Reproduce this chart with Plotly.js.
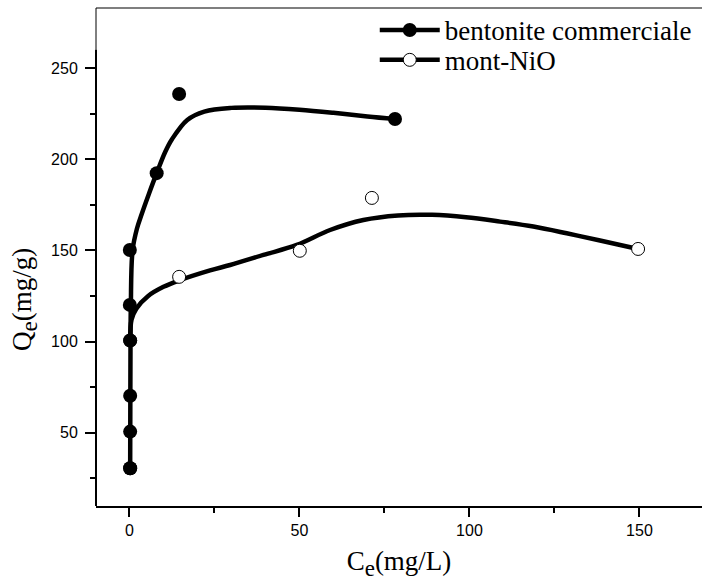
<!DOCTYPE html>
<html>
<head>
<meta charset="utf-8">
<script src="https://cdn.plot.ly/plotly-3.0.1.min.js"></script>
<style>html,body{margin:0;padding:0;background:#fff;}#chart{width:702px;height:583px;}</style>
</head>
<body>
<div id="chart"></div>
<script>
// measured data points
const bentX = [0.2, 0.2, 0.2, 0.2, 0.1, 0.1, 8.0, 14.6, 78.1];
const bentY = [30.5, 50.6, 70.3, 100.6, 120.1, 150.2, 192.4, 235.8, 222.1];
const nioX = [14.6, 50.1, 71.3, 149.6];
const nioY = [135.5, 149.8, 178.8, 150.8];
// fitted curves
const bentFitX = [0.2, 0.25, 0.3, 0.4, 0.9, 2.2, 3.6, 5.7, 8.0, 10.5, 12.5, 17, 22, 30, 40, 50, 60, 70, 78.1];
const bentFitY = [30.5, 70, 100, 120, 150, 162, 170, 181, 192.4, 204, 211, 221.6, 226.2, 228.2, 228.3, 227.2, 225.5, 223.5, 222.1];
const nioFitX = [0.2, 0.6, 2, 5.5, 10, 14.6, 23.7, 29.6, 39.4, 49.2, 59, 68.8, 79, 89, 99, 109, 118.8, 128.6, 138.4, 149.6];
const nioFitY = [100.6, 112, 118, 125, 130, 133.5, 139, 142, 147.5, 153, 161.2, 166.7, 169.2, 169.5, 168.2, 165.8, 163.1, 159.4, 155.4, 150.8];
const names = ['bentonite commerciale', 'mont-NiO'];
const xTicks = [0, 50, 100, 150];
const yTicks = [50, 100, 150, 200, 250];

function firstOnly(n, c) { return Array.from({length: n}, (_, i) => i === 0 ? c : 'rgba(0,0,0,0)'); }

const traces = [
  {x: nioFitX, y: nioFitY, name: names[1], mode: 'lines+markers', type: 'scatter', legend: 'legend2',
   line: {color: '#000', width: 4.5, shape: 'spline', smoothing: 1},
   marker: {size: 13, symbol: 'circle', color: firstOnly(nioFitX.length, '#fff'),
            line: {color: firstOnly(nioFitX.length, '#000'), width: 1}}},
  {x: bentFitX, y: bentFitY, name: names[0], mode: 'lines+markers', type: 'scatter', legend: 'legend',
   line: {color: '#000', width: 4.5, shape: 'spline', smoothing: 1},
   marker: {size: 14, symbol: 'circle', color: firstOnly(bentFitX.length, '#000'),
            line: {color: firstOnly(bentFitX.length, '#000'), width: 0}}},
  {x: nioX, y: nioY, mode: 'markers', type: 'scatter', showlegend: false,
   marker: {size: 13, color: '#fff', line: {color: '#000', width: 1}}},
  {x: bentX, y: bentY, mode: 'markers', type: 'scatter', showlegend: false,
   marker: {size: 14, color: '#000', line: {width: 0}}}
];

const tickFont = {family: 'Liberation Sans, Arial, sans-serif', size: 16, color: '#000'};
const serif = 'Liberation Serif, Times New Roman, serif';
const legFont = {family: serif, size: 27, color: '#000'};
const sub = s => '<sub><span style="font-size:23px">' + s + '</span></sub>';

const layout = {
  width: 702, height: 583,
  margin: {l: 96, r: 0, t: 8, b: 77},
  paper_bgcolor: '#fff', plot_bgcolor: '#fff',
  showlegend: true,
  legend: {x: 0.46, y: 0.955, xanchor: 'left', yanchor: 'middle', bgcolor: 'rgba(0,0,0,0)',
           font: legFont, itemwidth: 60},
  legend2: {x: 0.46, y: 0.895, xanchor: 'left', yanchor: 'middle', bgcolor: 'rgba(0,0,0,0)',
           font: legFont, itemwidth: 60},
  xaxis: {range: [-9.85, 168.4], tickvals: xTicks, ticktext: xTicks.map(String),
          ticks: 'outside', ticklen: 9, tickwidth: 2, tickcolor: '#000',
          showline: true, linewidth: 2, linecolor: '#000', mirror: false,
          showgrid: false, zeroline: false, tickfont: tickFont,
          minor: {tickvals: [25, 75, 125], ticks: 'outside', ticklen: 5, tickwidth: 2, tickcolor: '#000', showgrid: false},
          title: {text: 'C' + sub('e') + '(mg/L)', font: {family: serif, size: 27, color: '#000'}, standoff: 13}},
  yaxis: {range: [9.77, 283.0], tickvals: yTicks, ticktext: yTicks.map(String),
          ticks: 'outside', ticklen: 10, tickwidth: 2, tickcolor: '#000', ticklabelstandoff: 4,
          showline: false, showgrid: false, zeroline: false, tickfont: tickFont,
          minor: {tickvals: [25, 75, 125, 175, 225], ticks: 'outside', ticklen: 5, tickwidth: 2, tickcolor: '#000', showgrid: false}},
  annotations: [
    {text: 'Q' + sub('e') + '(mg/g)', xref: 'paper', yref: 'paper', x: -0.117, y: 0.4137,
     xanchor: 'center', yanchor: 'middle', textangle: -90, showarrow: false,
     font: {family: serif, size: 27, color: '#000'}}
  ],
  shapes: [
    {type: 'line', xref: 'paper', yref: 'paper', x0: 0, x1: 0, y0: 0, y1: 0.916, line: {color: '#000', width: 2}},
    {type: 'line', xref: 'paper', yref: 'paper', x0: 0, x1: 0, y0: 0.916, y1: 1, line: {color: '#000', width: 1}},
    {type: 'line', xref: 'paper', yref: 'paper', x0: 0, x1: 1, y0: 1, y1: 1, line: {color: '#000', width: 1.2}}
  ]
};

Plotly.newPlot('chart', traces, layout, {displayModeBar: false, staticPlot: true});
</script>
</body>
</html>
